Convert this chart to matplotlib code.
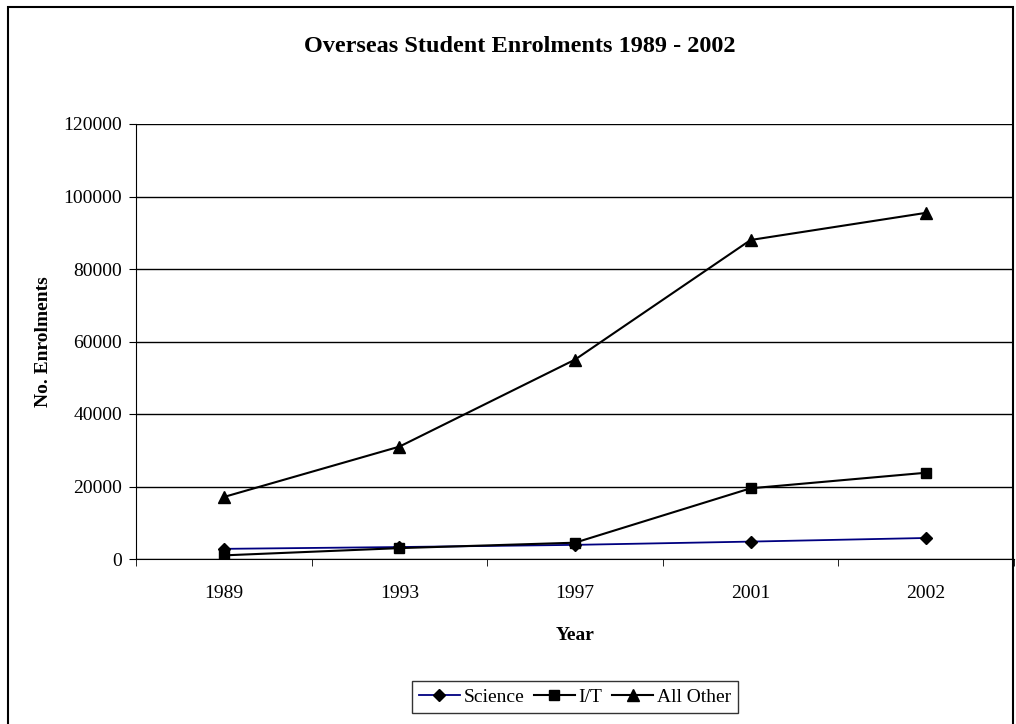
import matplotlib.pyplot as plt
import matplotlib.patches as patches
import numpy as np

years = ['1989', '1993', '1997', '2001', '2002']
science = [2800, 3300, 3900, 4800, 5800]
it = [1000, 3000, 4500, 19500, 23800]
all_other = [17100, 31000, 55000, 88000, 95500]

plt.rcParams['font.family'] = ['Liberation Serif', 'DejaVu Serif']

fig = plt.figure(figsize=(10.16, 7.24), dpi=100)
ax = fig.add_axes([136/1016, 1 - 559/724, (1014 - 136)/1016, (559 - 124)/724])

x = np.arange(len(years))
ax.plot(x, science, color='#000080', lw=1.3, marker='D', ms=6, mfc='black', mec='black', label='Science')
ax.plot(x, it, color='black', lw=1.5, marker='s', ms=7, mfc='black', mec='black', label='I/T')
ax.plot(x, all_other, color='black', lw=1.5, marker='^', ms=8, mfc='black', mec='black', label='All Other')

ax.set_xlim(-0.5, len(years) - 0.5)
ax.set_ylim(0, 120000)
ax.set_yticks(np.arange(0, 120001, 20000))
ax.yaxis.grid(True, color='black', lw=1)
ax.set_axisbelow(True)

# category labels centred, tick marks at category boundaries
ax.set_xticks(x)
ax.set_xticklabels(years, fontsize=14)
ax.tick_params(axis='x', which='major', length=0, pad=19)
ax.set_xticks(np.arange(-0.5, len(years)), minor=True)
ax.tick_params(axis='x', which='minor', length=5, direction='out', color='black')
ax.tick_params(axis='y', length=5, direction='out', labelsize=14, pad=5)

for s in ['top', 'right']:
    ax.spines[s].set_visible(False)

fig.text(520/1016, 1 - 47/724, 'Overseas Student Enrolments 1989 - 2002', fontsize=17.5,
         fontweight='bold', ha='center', va='center')
ax.set_xlabel('Year', fontsize=14, fontweight='bold', labelpad=18)
ax.set_ylabel('No. Enrolments', fontsize=14, fontweight='bold', labelpad=8)

leg = ax.legend(loc='center', bbox_to_anchor=(575/1016, 1 - 697/724), bbox_transform=fig.transFigure,
                ncol=3, frameon=True, fancybox=False, fontsize=14, handlelength=2.1,
                handletextpad=0.2, columnspacing=0.5, borderpad=0.35, borderaxespad=0)
leg.get_frame().set_edgecolor('black')
leg.get_frame().set_linewidth(1)

fig.patches.append(patches.Rectangle((8/1016, -0.05), (1013 - 8)/1016, 1.05 - 7/724,
                                     transform=fig.transFigure, fill=False, edgecolor='black', lw=1.5))

fig.savefig('out.png', dpi=100)
